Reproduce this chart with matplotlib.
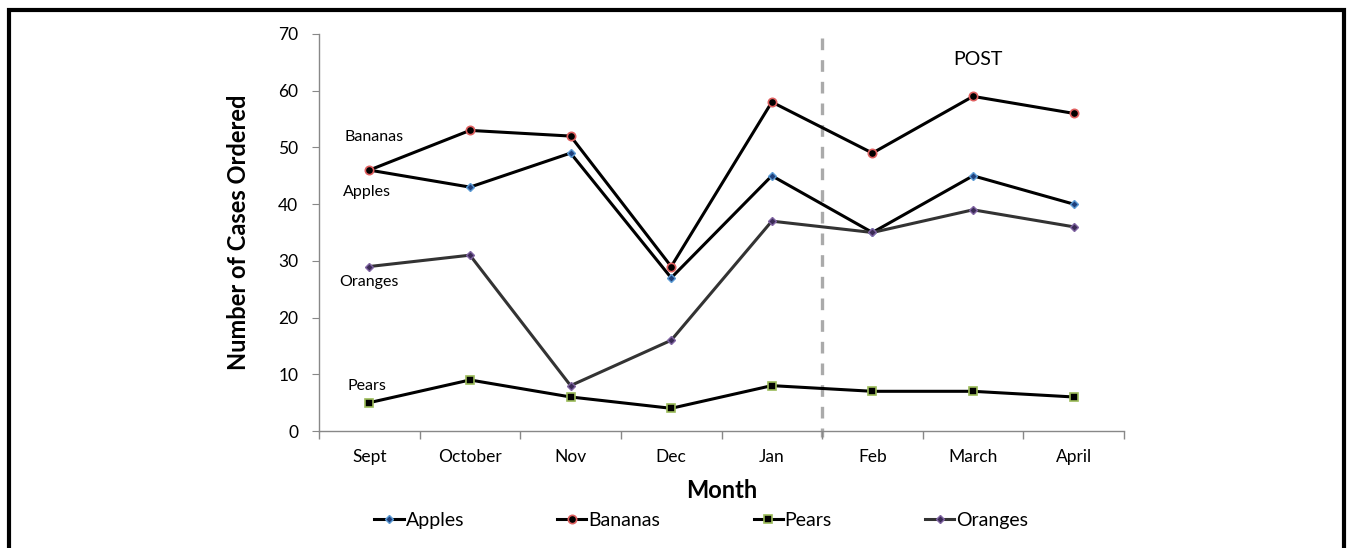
import matplotlib.pyplot as plt
from matplotlib.patches import Rectangle

months = ['Sept', 'October', 'Nov', 'Dec', 'Jan', 'Feb', 'March', 'April']
apples = [46, 43, 49, 27, 45, 35, 45, 40]
bananas = [46, 53, 52, 29, 58, 49, 59, 56]
pears = [5, 9, 6, 4, 8, 7, 7, 6]
oranges = [29, 31, 8, 16, 37, 35, 39, 36]
split_after = 'Jan'

plt.rcParams['font.family'] = ['Lato', 'DejaVu Sans']

fig = plt.figure(figsize=(13.49, 5.48), dpi=100)
ax = fig.add_axes([0.2365, 0.2135, 0.5967, 0.7245])

x = list(range(len(months)))
ax.plot(x, apples, color='black', lw=2.2, marker='D', ms=4,
        mfc='#1f3f7a', mec='#5b9bd5', mew=1, label='Apples')
ax.plot(x, bananas, color='black', lw=2.2, marker='o', ms=6,
        mfc='black', mec='#e06060', mew=1.2, label='Bananas')
ax.plot(x, pears, color='black', lw=2.2, marker='s', ms=5.5,
        mfc='black', mec='#9bbb59', mew=1.2, label='Pears')
ax.plot(x, oranges, color='#333333', lw=2.2, marker='D', ms=4,
        mfc='#3a2a55', mec='#8064a2', mew=1, label='Oranges')

# divider between pre and post
sx = months.index(split_after) + 0.5
ax.plot([sx, sx], [69.3, -1.0], color='#aaaaaa', lw=2.4,
        ls=(0, (3.5, 3)), clip_on=False, zorder=1)

ax.text(6.05, 65.5, 'POST', fontsize=14, ha='center', va='center')
ax.text(0.05, 51.8, 'Bananas', fontsize=11.5, ha='center', va='center')
ax.text(-0.02, 42.2, 'Apples', fontsize=11.5, ha='center', va='center')
ax.text(0.0, 26.3, 'Oranges', fontsize=11.5, ha='center', va='center')
ax.text(-0.02, 8.0, 'Pears', fontsize=11.5, ha='center', va='center')

ax.set_xlim(-0.5, len(months) - 0.5)
ax.set_ylim(0, 70)
ax.set_yticks(range(0, 71, 10))
ax.set_xticks(x)
ax.set_xticklabels(months, fontsize=12.5)
ax.set_xticks([i + 0.5 for i in range(-1, len(months))], minor=True)
ax.tick_params(axis='x', which='major', length=0, pad=13)
ax.tick_params(axis='x', which='minor', length=6, color='#888888', width=1)
ax.tick_params(axis='y', labelsize=12.5, length=5, color='#888888', pad=10)

for s in ['top', 'right']:
    ax.spines[s].set_visible(False)
for s in ['left', 'bottom']:
    ax.spines[s].set_color('#888888')
    ax.spines[s].set_linewidth(1)

ax.set_xlabel('Month', fontsize=17, fontweight='bold', labelpad=10)
ax.set_ylabel('Number of Cases Ordered', fontsize=17, fontweight='bold', labelpad=20)

ax.legend(loc='upper center', bbox_to_anchor=(0.475, -0.16), ncol=4,
          frameon=False, fontsize=14, handlelength=1.5, handletextpad=0.1,
          columnspacing=4.8)

fig.patches.append(Rectangle((8.5 / 1349, -0.1), 1335 / 1349, 1.1 - 10.5 / 548,
                             transform=fig.transFigure, fill=False,
                             edgecolor='black', lw=3, clip_on=False))

fig.savefig('out.png', dpi=100)
